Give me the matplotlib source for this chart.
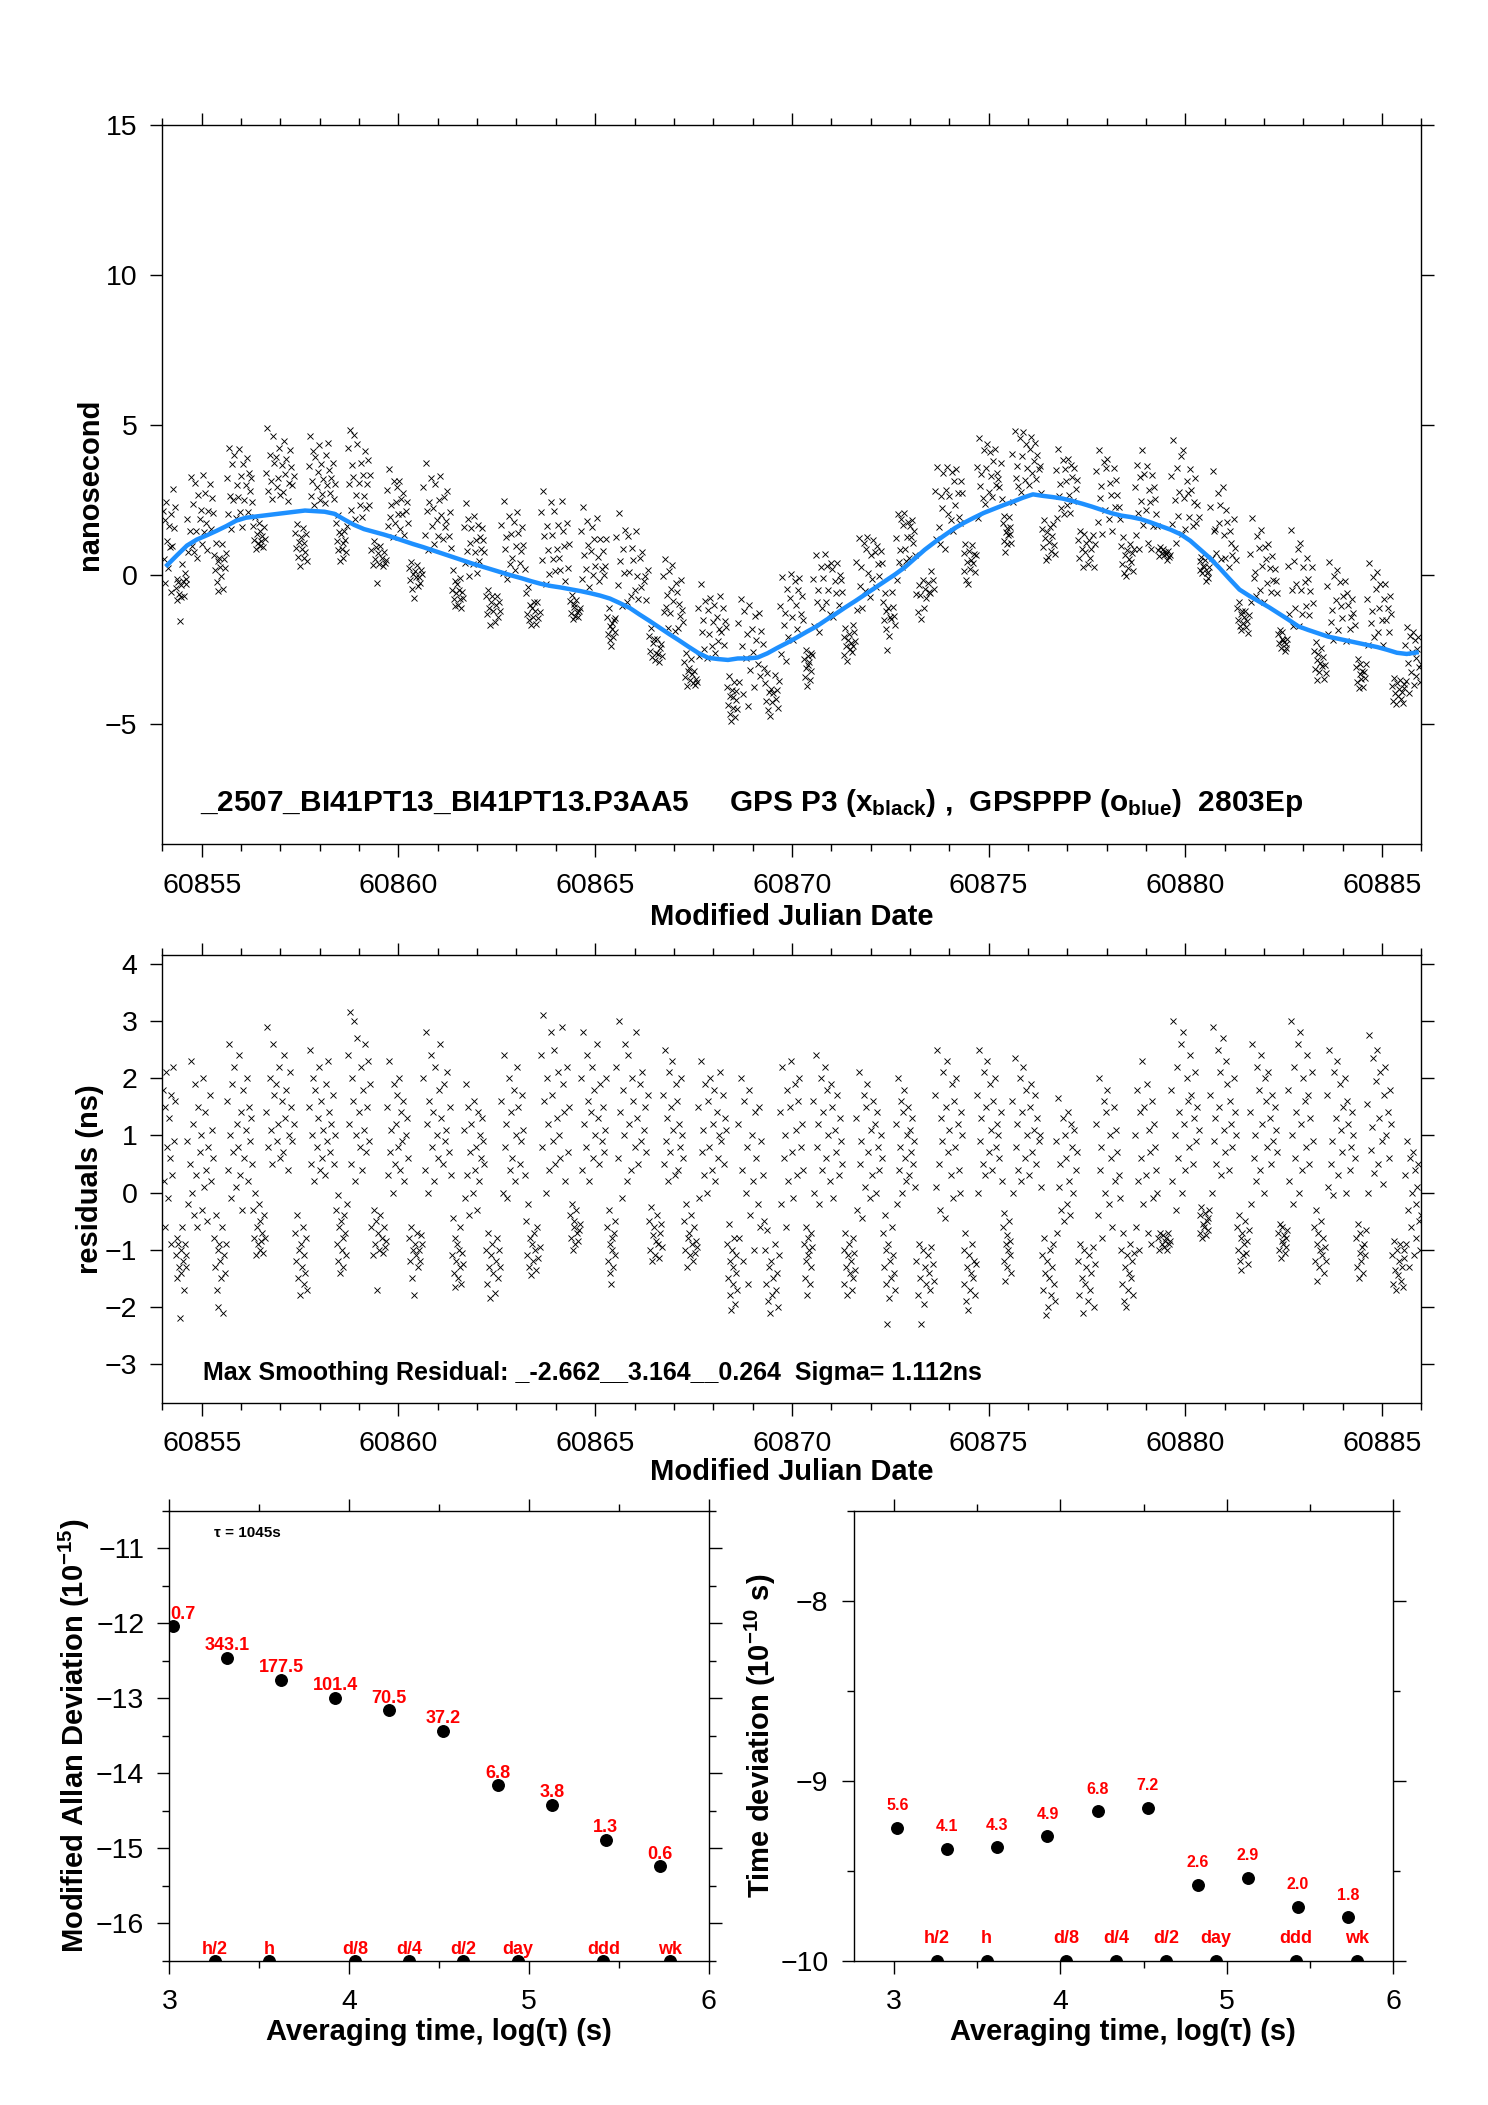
#!/usr/bin/python

import numpy as np
import matplotlib
matplotlib.use("Agg")
import matplotlib.pyplot as plt
from matplotlib.ticker import MultipleLocator, FormatStrFormatter

plt.rcParams["font.family"] = ["Liberation Sans", "DejaVu Sans"]
plt.rcParams["mathtext.fontset"] = "custom"
plt.rcParams["mathtext.rm"] = "Liberation Sans"
plt.rcParams["mathtext.bf"] = "Liberation Sans:bold"
plt.rcParams["mathtext.it"] = "Liberation Sans:italic"


# smoothed (blue) curve, one value per quarter day starting at MJD 60854
mjd_start = 60854.0
slot = 0.25
smooth_ns = [
  0.32, 0.65, 0.97, 1.17, 1.31, 1.46, 1.62, 1.80,
  1.90, 1.94, 1.98, 2.02, 2.06, 2.10, 2.14, 2.12,
  2.10, 2.03, 1.84, 1.66, 1.52, 1.43, 1.34, 1.24,
  1.13, 1.02, 0.92, 0.81, 0.70, 0.59, 0.48, 0.37,
  0.27, 0.17, 0.07, -0.03, -0.12, -0.22, -0.31, -0.38,
  -0.43, -0.49, -0.55, -0.62, -0.70, -0.80, -0.95, -1.11,
  -1.33, -1.54, -1.76, -1.98, -2.19, -2.41, -2.62, -2.78,
  -2.82, -2.85, -2.80, -2.80, -2.77, -2.63, -2.45, -2.28,
  -2.10, -1.91, -1.73, -1.51, -1.30, -1.08, -0.87, -0.65,
  -0.43, -0.21, 0.01, 0.25, 0.54, 0.83, 1.08, 1.31,
  1.54, 1.73, 1.90, 2.06, 2.19, 2.32, 2.44, 2.57,
  2.68, 2.63, 2.59, 2.54, 2.46, 2.37, 2.27, 2.16,
  2.05, 1.97, 1.92, 1.85, 1.74, 1.62, 1.50, 1.35,
  1.13, 0.84, 0.55, 0.21, -0.15, -0.50, -0.71, -0.90,
  -1.09, -1.30, -1.51, -1.73, -1.85, -1.96, -2.07, -2.14,
  -2.21, -2.28, -2.35, -2.42, -2.51, -2.61, -2.65, -2.60,
]

# smoothing residuals (ns), grouped by satellite pass: (mjd from, mjd to, values)
resid_segments = [
  (60854.00, 60854.33, "1.8 0.2 1.5 -0.6 2.1 0.8 -0.1 1.3 0.6 1.7 -0.9 0.3 2.2 0.9 1.6"),
  (60854.33, 60854.62, "-1.1 -0.8 -1.5 -0.9 -1.3 -2.2 -1.0 -1.4 -0.6 -1.2 -1.7 -0.9 -1.3 -1.1"),
  (60854.62, 60855.30, "0.9 -0.2 0.5 2.3 0.0 1.2 -0.4 1.9 0.3 -0.6 1.5 0.7 1.0 -0.3 2.0 0.1 1.4 0.4 -0.5 0.8 1.7 0.2 1.1 0.6"),
  (60855.30, 60855.62, "-0.8 -1.3 -0.4 -1.7 -1.0 -2.0 -0.9 -1.2 -1.5 -0.6 -2.1 -1.1 -1.4 -0.9"),
  (60855.62, 60856.30, "1.6 0.4 2.6 1.0 -0.1 1.9 0.7 2.2 0.1 1.2 0.8 2.4 0.3 1.4 -0.3 1.8 0.6 1.1 2.0 0.2 1.5 0.9 1.3 0.5"),
  (60856.30, 60856.62, "-0.3 -0.8 0.0 -1.1 -0.6 -0.9 -0.2 -1.0 -0.5 -0.85 -0.7 -1.05 -0.4 -0.8"),
  (60856.62, 60857.35, "1.4 2.9 0.8 2.0 1.1 0.5 2.6 1.7 1.9 0.9 1.2 2.2 0.6 1.6 0.7 2.4 1.3 1.8 0.4 1.0 2.1 1.5 0.9 1.2"),
  (60857.35, 60857.70, "-0.7 -1.2 -0.4 -1.5 -1.0 -1.8 -0.9 -1.3 -0.6 -1.6 -1.1 -1.4 -0.8 -1.7"),
  (60857.70, 60858.40, "1.5 2.5 0.5 1.0 2.0 0.2 1.8 0.8 1.3 2.2 0.4 1.6 0.6 1.1 0.3 1.9 0.9 2.3 1.4 0.7 1.2 1.7 0.5 1.0"),
  (60858.40, 60858.70, "-0.3 -0.9 -0.05 -1.2 -0.6 -1.4 -0.5 -1.0 -0.8 -1.3 -0.4 -0.7 -1.1 -0.2"),
  (60858.70, 60859.30, "2.4 1.2 3.16 0.5 2.0 1.6 3.0 0.2 1.0 2.7 1.4 0.8 2.2 0.4 1.8 1.1 2.6 0.7 1.5 2.3 0.9 1.9"),
  (60859.30, 60859.70, "-0.6 -1.1 -0.3 -0.9 -0.5 -1.7 -0.7 -1.0 -0.4 -0.8 -1.05 -0.6 -0.95 -0.85"),
  (60859.70, 60860.25, "1.5 0.3 2.3 0.7 1.1 0.0 1.9 0.5 1.2 1.7 0.8 2.0 0.4 1.4 0.9 1.6 0.2 1.0 1.3 0.6"),
  (60860.25, 60860.62, "-0.8 -1.2 -0.6 -1.5 -1.0 -1.8 -0.9 -1.1 -0.7 -1.3 -1.0 -1.2 -0.75 -0.9"),
  (60860.62, 60861.35, "2.0 0.4 2.8 1.2 0.0 1.6 2.4 0.8 1.4 0.2 2.2 1.0 0.6 1.8 2.6 1.3 0.5 1.9 0.9 1.1 2.1 0.7 1.5 0.3"),
  (60861.35, 60861.65, "-1.1 -0.45 -1.4 -0.8 -1.65 -1.2 -0.9 -1.5 -1.0 -1.3 -0.6 -1.6 -1.05 -1.25"),
  (60861.65, 60862.20, "1.1 -0.1 1.9 0.3 1.5 -0.4 0.7 1.2 0.0 1.6 0.4 0.8 -0.3 1.4 0.2 1.0 0.6 1.3 0.9 0.5"),
  (60862.20, 60862.60, "-1.0 -1.6 -0.7 -1.3 -1.85 -1.1 -0.9 -1.4 -1.75 -1.2 -0.8 -1.5 -1.0 -1.3"),
  (60862.60, 60863.22, "1.6 0.0 2.4 0.8 1.2 -0.1 2.0 0.4 1.4 0.6 1.8 0.2 1.0 2.2 1.5 0.5 0.9 1.7 1.1 0.3"),
  (60863.22, 60863.60, "-0.5 -1.1 -0.2 -1.3 -0.8 -1.45 -0.9 -1.2 -0.7 -1.0 -1.35 -0.6 -1.15 -0.95"),
  (60863.60, 60864.35, "2.4 0.8 3.1 1.6 0.0 2.0 1.2 0.4 2.8 1.7 0.9 2.5 0.5 1.3 2.1 1.0 0.6 2.9 1.9 1.4 0.2 2.2 0.7 1.5"),
  (60864.35, 60864.62, "-0.4 -0.8 -0.2 -1.0 -0.6 -0.5 -0.9 -0.3 -0.7 -0.85 -0.65 -0.55"),
  (60864.62, 60865.30, "2.0 0.4 2.8 1.2 0.8 2.4 1.6 0.2 1.4 2.2 0.6 1.8 1.0 2.6 1.3 0.5 1.9 0.9 1.5 0.7 1.1 2.0"),
  (60865.30, 60865.52, "-0.6 -1.2 -0.3 -1.4 -0.9 -1.6 -0.8 -1.0 -1.3 -0.7 -1.1 -0.5"),
  (60865.52, 60866.35, "2.2 0.6 3.0 1.4 -0.1 1.8 1.0 2.6 0.2 2.4 1.2 0.4 2.0 1.6 0.8 2.8 1.3 0.5 1.9 0.9 2.1 1.1 1.5 0.7 1.7"),
  (60866.35, 60866.70, "-0.5 -1.0 -0.25 -1.2 -0.75 -0.6 -1.1 -0.85 -0.4 -0.9 -1.15 -0.7 -0.55 -0.95"),
  (60866.70, 60867.25, "1.7 0.5 2.5 0.9 1.3 0.2 2.1 0.7 1.5 2.3 1.1 0.3 1.9 1.6 0.4 1.2 0.8 2.0 1.0 0.6"),
  (60867.25, 60867.60, "-0.5 -1.0 -0.2 -1.3 -0.8 -0.7 -1.1 -0.4 -0.9 -1.2 -0.6 -1.05 -0.85 -0.95"),
  (60867.60, 60868.35, "1.5 -0.1 2.3 0.7 1.1 0.3 1.9 0.0 1.6 0.8 2.0 0.4 1.2 1.8 0.2 1.4 0.6 1.0 2.1 0.9 1.7 0.5 1.3 1.1"),
  (60868.35, 60868.62, "-0.9 -1.5 -0.55 -1.8 -1.2 -2.05 -1.0 -1.6 -1.3 -0.8 -1.95 -1.4 -1.1 -1.7"),
  (60868.62, 60869.30, "1.2 -0.8 2.0 0.4 -1.2 1.6 0.0 0.8 -1.6 1.8 -0.4 1.0 0.2 -1.0 1.4 0.6 -0.2 1.5 -0.6 0.9 0.3 -0.5"),
  (60869.30, 60869.68, "-1.0 -1.6 -0.65 -1.9 -1.3 -2.1 -1.2 -1.8 -1.5 -0.9 -1.7 -1.4 -2.0 -1.1"),
  (60869.68, 60870.30, "1.4 -0.2 2.2 0.6 1.0 -0.6 1.8 0.2 1.5 2.3 0.7 -0.1 1.9 1.1 0.3 1.6 2.0 0.8 1.2 0.4"),
  (60870.30, 60870.52, "-0.9 -1.5 -0.6 -1.2 -1.8 -0.8 -1.1 -1.0 -1.6 -0.7 -1.3 -0.95"),
  (60870.52, 60871.30, "1.6 0.0 2.4 0.8 1.2 -0.2 2.0 0.4 1.4 2.2 0.6 1.8 1.0 0.2 1.9 1.5 -0.1 1.1 0.7 1.7 0.3 1.3 0.9 0.5"),
  (60871.30, 60871.62, "-1.0 -1.6 -0.7 -1.3 -1.8 -1.1 -0.9 -1.4 -1.2 -1.7 -0.8 -1.5 -1.05 -1.35"),
  (60871.62, 60872.30, "1.3 -0.3 2.1 0.5 0.9 -0.45 1.7 0.1 1.5 1.9 0.7 -0.1 1.1 0.3 1.6 1.2 0.0 1.4 0.8 0.4 1.0 0.6"),
  (60872.30, 60872.62, "-0.7 -1.3 -0.4 -1.6 -1.0 -2.3 -0.9 -1.85 -1.2 -1.5 -0.6 -1.1 -1.4 -1.7"),
  (60872.62, 60873.15, "1.2 -0.2 2.0 0.4 0.8 1.6 0.0 1.4 1.8 0.6 0.2 1.0 1.5 0.3 1.1 0.7 1.3 0.5 0.9 0.1"),
  (60873.15, 60873.62, "-1.2 -1.8 -0.9 -1.5 -2.3 -1.0 -1.95 -1.3 -1.6 -1.1 -1.4 -1.7 -0.95 -1.25 -1.55"),
  (60873.62, 60874.35, "1.7 0.1 2.5 0.5 -0.3 1.3 0.9 2.1 -0.45 1.5 2.3 0.7 1.1 0.3 1.9 -0.1 1.6 0.8 2.0 1.2 0.4 0.0 1.4 1.0"),
  (60874.35, 60874.68, "-1.0 -1.6 -0.7 -1.9 -1.3 -2.05 -1.1 -1.7 -1.4 -0.9 -1.5 -1.2 -1.8 -1.25"),
  (60874.68, 60875.35, "1.7 0.0 2.5 0.9 1.3 0.5 2.1 0.3 1.5 2.3 0.7 1.9 1.1 0.4 1.6 2.0 0.8 1.2 1.0 0.6 1.4 0.2"),
  (60875.35, 60875.58, "-0.6 -1.2 -0.35 -1.55 -0.9 -0.75 -1.3 -1.0 -0.5 -1.1 -0.85 -1.4"),
  (60875.58, 60876.35, "1.6 0.0 2.35 0.8 1.2 0.4 2.0 0.2 1.4 2.2 0.6 1.8 1.0 0.3 1.5 1.9 0.7 1.1 1.7 0.5 1.3 0.9 1.0 0.1"),
  (60876.35, 60876.70, "-1.1 -1.7 -0.8 -1.4 -2.15 -1.2 -2.0 -1.5 -1.0 -1.8 -1.3 -0.9 -1.6 -1.9"),
  (60876.70, 60877.25, "0.9 -0.7 1.65 0.1 0.5 -0.3 1.3 -0.5 1.0 0.6 -0.2 1.4 0.2 -0.4 1.2 0.8 0.0 1.1 0.4 0.7"),
  (60877.25, 60877.72, "-1.2 -1.8 -0.9 -1.5 -2.1 -1.0 -1.6 -1.3 -1.9 -1.1 -1.7 -1.4 -0.95 -2.0 -1.25"),
  (60877.72, 60878.35, "1.2 -0.4 2.0 0.4 0.8 -0.8 1.6 0.0 1.4 1.8 -0.2 1.0 0.6 -0.6 1.5 0.2 1.1 0.7 0.3 -0.1"),
  (60878.35, 60878.70, "-1.0 -1.6 -0.7 -1.9 -1.3 -2.0 -1.1 -1.7 -1.4 -0.9 -1.5 -1.2 -1.8 -1.05"),
  (60878.70, 60879.30, "1.0 -0.6 1.8 0.2 -1.0 1.4 0.6 2.3 -0.2 1.5 0.3 1.9 -0.7 1.1 0.7 -0.9 1.6 -0.1 1.2 0.8 0.4 0.0"),
  (60879.30, 60879.62, "-0.8 -1.0 -0.7 -0.9 -0.75 -0.95 -0.85 -0.8 -1.0 -0.7 -0.9 -0.85"),
  (60879.62, 60880.35, "1.8 0.2 3.0 1.0 -0.3 2.2 0.6 1.4 2.6 0.0 2.8 1.2 0.4 2.0 1.6 0.8 2.4 1.7 0.5 1.3 2.1 0.9 1.5 1.1"),
  (60880.35, 60880.62, "-0.4 -0.7 -0.25 -0.8 -0.55 -0.6 -0.35 -0.75 -0.5 -0.65 -0.45 -0.3"),
  (60880.62, 60881.30, "1.7 0.0 2.9 0.9 1.3 0.5 2.5 1.5 2.1 0.3 2.7 1.1 0.7 2.3 1.9 0.4 1.6 1.2 0.8 2.0 1.4 1.0"),
  (60881.30, 60881.62, "-0.6 -1.0 -0.4 -1.2 -0.8 -1.35 -0.7 -1.1 -0.9 -0.5 -1.05 -0.85 -1.25 -0.65"),
  (60881.62, 60882.35, "1.4 -0.2 2.6 0.6 1.0 0.2 2.2 1.8 0.4 2.4 1.2 0.0 2.0 1.6 0.8 2.1 1.3 0.5 1.7 0.9 1.5 1.1 0.7"),
  (60882.35, 60882.60, "-0.7 -1.0 -0.55 -1.15 -0.85 -0.6 -0.9 -0.75 -1.05 -0.8 -0.95 -0.65"),
  (60882.60, 60883.25, "1.8 0.2 3.0 1.0 -0.2 2.2 0.6 1.4 2.6 0.0 2.8 1.2 0.4 2.0 1.6 0.8 2.4 1.7 0.5 1.3 2.1 0.9"),
  (60883.25, 60883.58, "-0.6 -1.2 -0.3 -1.55 -0.9 -0.7 -1.3 -1.0 -0.5 -1.1 -0.8 -1.4 -0.95 -1.2"),
  (60883.58, 60884.32, "1.7 0.1 2.5 0.5 0.9 -0.05 2.1 1.3 2.3 0.3 1.9 1.1 0.7 1.5 2.0 0.0 1.6 1.2 0.4 0.8 1.4 1.0 0.6"),
  (60884.32, 60884.60, "-0.8 -1.3 -0.55 -1.5 -1.05 -0.7 -1.2 -0.95 -1.4 -0.9 -1.1 -0.65"),
  (60884.60, 60885.25, "1.55 0.0 2.75 0.75 1.15 2.35 0.35 1.95 2.5 0.5 1.3 2.1 0.9 0.15 1.7 2.2 1.0 1.4 0.6 1.8 1.2"),
  (60885.25, 60885.58, "-1.1 -1.6 -0.85 -1.35 -1.7 -1.0 -1.45 -1.2 -0.9 -1.55 -1.3 -1.65 -1.15 -1.0"),
  (60885.58, 60886.00, "0.3 -0.9 0.9 -0.3 -1.3 0.6 -0.6 0.0 0.7 -1.1 0.4 -0.2 -0.8 0.1 0.5 -0.5 -1.0 -0.4"),
]

# stability analysis, tau = 1045 s * 2^k
tau_s = [1045, 2090, 4180, 8360, 16720, 33440, 66880, 133760, 267520, 535040]
mdev_log = [-12.04, -12.46, -12.75, -12.99, -13.16, -13.43, -14.16, -14.42, -14.89, -15.24]
mdev_lab = ["0.7", "343.1", "177.5", "101.4", "70.5", "37.2", "6.8", "3.8", "1.3", "0.6"]
tdev_log = [-9.26, -9.38, -9.37, -9.31, -9.17, -9.15, -9.58, -9.54, -9.70, -9.76]
tdev_lab = ["5.6", "4.1", "4.3", "4.9", "6.8", "7.2", "2.6", "2.9", "2.0", "1.8"]

ref_tau = [1800, 3600, 10800, 21600, 43200, 86400, 259200, 604800]
ref_lab = ["h/2", "h", "d/8", "d/4", "d/2", "day", "ddd", "wk"]

top_text = (r"_2507_BI41PT13_BI41PT13.P3AA5     GPS P3 (x$_{\mathbf{black}}$) ,  "
            r"GPSPPP (o$_{\mathbf{blue}}$)  2803Ep")
res_text = "Max Smoothing Residual: _-2.662__3.164__0.264  Sigma= 1.112ns"


def _style(ax):
  ax.tick_params(which="both", direction="out", top=True, right=True,
                 width=1.0, labelsize=20.5, colors="k")
  ax.tick_params(which="major", length=9)
  ax.tick_params(which="minor", length=4.7)
  ax.tick_params(axis="x", which="both", pad=11.5)
  ax.tick_params(axis="y", which="both", pad=9)
  for sp in ax.spines.values():
    sp.set_linewidth(1.0)


def _series():
  tt, rr = [], []
  for t0, t1, vals in resid_segments:
    v = [float(s) for s in vals.split()]
    dt = (t1 - t0) / len(v)
    tt.append(t0 + dt / 2 + dt * np.arange(len(v)))
    rr.append(v)
  t = np.concatenate(tt)
  r = np.concatenate(rr)
  sm = np.array(smooth_ns)
  idx = np.clip(((t - mjd_start) / slot).astype(int), 0, len(sm) - 1)
  t_sm = mjd_start + slot * (np.arange(len(sm)) + 0.5)
  return t, r, sm[idx] + r, t_sm, sm


def main():
  t, r, x_ns, t_sm, sm = _series()

  fig = plt.figure(figsize=(14.88, 21.05), dpi=100)

  # --- top: time difference with smoothing
  ax1 = fig.add_axes([0.1091, 0.5990, 0.8462, 0.3414])
  ax1.plot(t, x_ns, "x", color="k", ms=4.8, mew=0.65)
  ax1.plot(t_sm, sm, "-", color="#1E90FF", lw=3.2)
  ax1.set_xlim(60854, 60886)
  ax1.set_ylim(-9, 15)
  ax1.xaxis.set_major_locator(MultipleLocator(5))
  ax1.xaxis.set_minor_locator(MultipleLocator(1))
  ax1.xaxis.set_major_formatter(FormatStrFormatter("%d"))
  ax1.yaxis.set_major_locator(MultipleLocator(5))
  _style(ax1)
  ax1.set_xlabel("Modified Julian Date", fontsize=21, fontweight="bold")
  ax1.set_ylabel("nanosecond", fontsize=21, fontweight="bold")
  ax1.xaxis.set_label_coords(0.5, -0.082)
  ax1.yaxis.set_label_coords(-0.046, 0.5)
  ax1.text(60854.96, -7.9, top_text, fontsize=21.4, fontweight="bold",
           va="baseline", ha="left")

  # --- middle: residuals
  ax2 = fig.add_axes([0.1091, 0.3335, 0.8462, 0.2130])
  ax2.plot(t, r, "x", color="k", ms=4.8, mew=0.65)
  ax2.set_xlim(60854, 60886)
  ax2.set_ylim(-3.68, 4.16)
  ax2.xaxis.set_major_locator(MultipleLocator(5))
  ax2.xaxis.set_minor_locator(MultipleLocator(1))
  ax2.xaxis.set_major_formatter(FormatStrFormatter("%d"))
  ax2.yaxis.set_major_locator(MultipleLocator(1))
  _style(ax2)
  ax2.set_xlabel("Modified Julian Date", fontsize=21, fontweight="bold")
  ax2.set_ylabel("residuals (ns)", fontsize=21, fontweight="bold")
  ax2.xaxis.set_label_coords(0.5, -0.122)
  ax2.yaxis.set_label_coords(-0.046, 0.5)
  ax2.text(60855.03, -3.27, res_text, fontsize=18, fontweight="bold",
           va="baseline", ha="left")

  lx = np.log10(tau_s)
  rx = np.log10(ref_tau)

  # --- bottom left: modified Allan deviation
  ax3 = fig.add_axes([0.1138, 0.0686, 0.3626, 0.2136])
  ax3.plot(lx, mdev_log, "o", color="k", ms=8.3)
  ax3.plot(rx, [-16.5] * len(rx), "o", color="k", ms=8.3)
  for i, (x, y, s) in enumerate(zip(lx, mdev_log, mdev_lab)):
    ax3.annotate(s, (x, y), xytext=(-1.5 if i == 0 else 0, 5.5),
                 textcoords="offset points", ha="left" if i == 0 else "center",
                 va="baseline", color="red", fontsize=13, fontweight="bold")
  for x, s in zip(rx, ref_lab):
    ax3.annotate(s, (x, -16.5), xytext=(0, 4.7), textcoords="offset points",
                 ha="center", va="baseline", color="red", fontsize=13,
                 fontweight="bold")
  ax3.text(3.25, -10.80, "τ = 1045s", fontsize=11, fontweight="bold",
           va="center", ha="left")
  ax3.set_xlim(3, 6)
  ax3.set_ylim(-16.5, -10.5)
  ax3.xaxis.set_major_locator(MultipleLocator(1))
  ax3.xaxis.set_minor_locator(MultipleLocator(0.5))
  ax3.yaxis.set_major_locator(MultipleLocator(1))
  ax3.yaxis.set_minor_locator(MultipleLocator(0.5))
  _style(ax3)
  ax3.set_xlabel("Averaging time, log(τ) (s)", fontsize=21, fontweight="bold")
  ax3.set_ylabel(r"Modified Allan Deviation (10$^{\mathbf{-15}}$)",
                 fontsize=21, fontweight="bold")
  ax3.xaxis.set_label_coords(0.5, -0.128)
  ax3.yaxis.set_label_coords(-0.1425, 0.5)

  # --- bottom right: time deviation
  ax4 = fig.add_axes([0.5736, 0.0686, 0.3626, 0.2136])
  ax4.plot(lx, tdev_log, "o", color="k", ms=8.3)
  ax4.plot(rx, [-10.0] * len(rx), "o", color="k", ms=8.3)
  for x, y, s in zip(lx, tdev_log, tdev_lab):
    ax4.annotate(s, (x, y), xytext=(0, 12.7), textcoords="offset points",
                 ha="center", va="baseline", color="red", fontsize=11.5,
                 fontweight="bold")
  for x, s in zip(rx, ref_lab):
    ax4.annotate(s, (x, -10.0), xytext=(0, 12.6), textcoords="offset points",
                 ha="center", va="baseline", color="red", fontsize=13,
                 fontweight="bold")
  ax4.set_xlim(2.756, 6.0)
  ax4.set_ylim(-10, -7.5)
  ax4.xaxis.set_major_locator(MultipleLocator(1))
  ax4.xaxis.set_minor_locator(MultipleLocator(0.5))
  ax4.yaxis.set_major_locator(MultipleLocator(1))
  ax4.yaxis.set_minor_locator(MultipleLocator(0.5))
  _style(ax4)
  ax4.set_xlabel("Averaging time, log(τ) (s)", fontsize=21, fontweight="bold")
  ax4.set_ylabel(r"Time deviation (10$^{\mathbf{-10}}$ s)",
                 fontsize=21, fontweight="bold")
  ax4.xaxis.set_label_coords(0.5, -0.128)
  ax4.yaxis.set_label_coords(-0.140, 0.5)

  fig.savefig("out.png", dpi=100)


if __name__ == "__main__":
  main()
